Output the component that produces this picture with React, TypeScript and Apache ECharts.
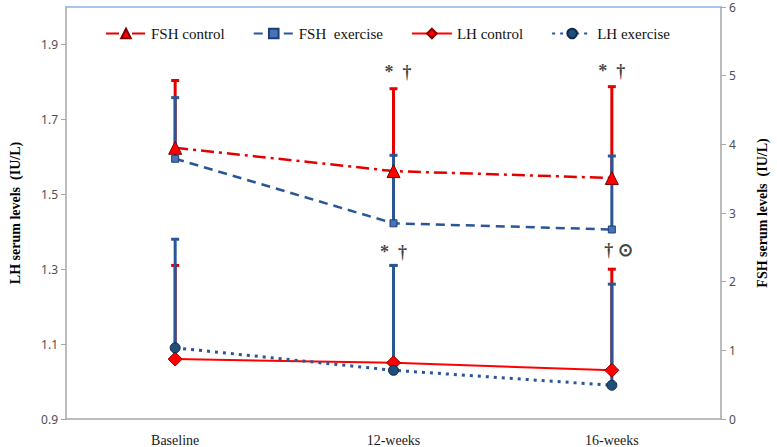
import React, { useEffect, useRef } from "react";
import * as echarts from "echarts";

const categories = ["Baseline", "12-weeks", "16-weeks"];

// FSH (right axis, IU/L)
const fshControl = [3.95, 3.61, 3.51];
const fshControlTop = [4.93, 4.81, 4.84];
const fshExercise = [3.79, 2.85, 2.76];
const fshExerciseTop = [4.68, 3.84, 3.83];

// LH (left axis, IU/L)
const lhControl = [1.06, 1.05, 1.03];
const lhControlTop = [1.31, 1.31, 1.3];
const lhExercise = [1.09, 1.03, 0.99];
const lhExerciseTop = [1.38, 1.31, 1.26];

// significance annotations
const annoCats = ["12-weeks", "16-weeks", "12-weeks", "16-weeks"];
const annoAxis = [1, 1, 0, 0];
const annoValues = [5.05, 5.07, 1.347, 1.352];
const annoTexts = ["  *  †", "*  †", "*  †", "   † ⊙"];

const leftTicks = { min: 0.9, max: 2.0, interval: 0.2 };
const rightTicks = { min: 0, max: 6, interval: 1 };

const RED = "#e50000";
const BLUE = "#2a5597";

function errorSeries(vals: number[], tops: number[], color: string, yAxisIndex: number) {
  return {
    type: "custom",
    yAxisIndex,
    z: 2,
    silent: true,
    data: vals.map((v, i) => [i, v, tops[i]]),
    encode: { x: 0, y: [1, 2] },
    renderItem: (params: any, api: any) => {
      const x = api.value(0);
      const p0 = api.coord([x, api.value(1)]);
      const p1 = api.coord([x, api.value(2)]);
      return {
        type: "group",
        children: [
          {
            type: "line",
            shape: { x1: p0[0], y1: p0[1], x2: p1[0], y2: p1[1] },
            style: { stroke: color, lineWidth: 3 },
          },
          {
            type: "line",
            shape: { x1: p1[0] - 4, y1: p1[1], x2: p1[0] + 4, y2: p1[1] },
            style: { stroke: color, lineWidth: 3 },
          },
        ],
      };
    },
  };
}

export default function App() {
  const ref = useRef<HTMLDivElement>(null);
  useEffect(() => {
    document.body.style.margin = "0";
    const chart = echarts.init(ref.current!, null, { renderer: "svg" });
    const serif = "Liberation Serif";
    const option: any = {
      animation: false,
      backgroundColor: "#ffffff",
      grid: { left: 62, right: 53, top: 7, bottom: 27 },
      legend: {
        left: 100,
        top: 21,
        itemWidth: 40,
        itemHeight: 12,
        itemGap: 28,
        data: ["FSH control", "FSH  exercise", "LH control", "LH exercise"],
        textStyle: { fontFamily: serif, fontSize: 15, color: "#111" },
      },
      xAxis: [
        {
          type: "category",
          data: categories,
          boundaryGap: true,
          axisLine: { lineStyle: { color: "#a6a6a6", width: 1.5 } },
          axisTick: { show: false },
          axisLabel: {
            fontFamily: serif,
            fontSize: 14,
            color: "#1a1a1a",
            margin: 14,
          },
        },
        {
          type: "category",
          data: categories,
          position: "top",
          axisLine: { lineStyle: { color: "#8db3e2", width: 1.5 } },
          axisTick: { show: false },
          axisLabel: { show: false },
        },
      ],
      yAxis: [
        {
          type: "value",
          ...leftTicks,
          name: "LH serum levels  (IU/L)",
          nameLocation: "middle",
          nameRotate: 90,
          nameGap: 44,
          nameTextStyle: { fontFamily: serif, fontSize: 14, fontWeight: "bold", color: "#000" },
          splitLine: { show: false },
          axisLine: { show: true, lineStyle: { color: "#a6a6a6", width: 1.5 } },
          axisTick: { show: true, length: 5, lineStyle: { color: "#a6a6a6" } },
          axisLabel: {
            showMaxLabel: false,
            fontFamily: "Noto Sans",
            fontSize: 12,
            color: "#505050",
            margin: 8,
            formatter: (v: number) => v.toFixed(1),
          },
        },
        {
          type: "value",
          ...rightTicks,
          position: "right",
          name: "FSH serum levels  (IU/L)",
          nameLocation: "middle",
          nameRotate: 90,
          nameGap: 34,
          nameTextStyle: { fontFamily: serif, fontSize: 14, fontWeight: "bold", color: "#000" },
          splitLine: { show: false },
          axisLine: { show: true, lineStyle: { color: "#a6a6a6", width: 1.5 } },
          axisTick: { show: true, length: 5, lineStyle: { color: "#a6a6a6" } },
          axisLabel: {
            fontFamily: "Noto Sans",
            fontSize: 12,
            color: "#505050",
            margin: 8,
          },
        },
      ],
      series: [
        errorSeries(fshControl, fshControlTop, RED, 1),
        errorSeries(lhControl, lhControlTop, RED, 0),
        errorSeries(fshExercise, fshExerciseTop, BLUE, 1),
        errorSeries(lhExercise, lhExerciseTop, BLUE, 0),
        {
          name: "FSH control",
          type: "line",
          yAxisIndex: 1,
          z: 3,
          data: fshControl,
          symbol: "triangle",
          symbolSize: 13,
          itemStyle: { color: "#ff0000", borderColor: "#7a0000", borderWidth: 1 },
          lineStyle: { color: RED, width: 2.5, type: [13, 5, 3, 5] },
        },
        {
          name: "FSH  exercise",
          type: "line",
          yAxisIndex: 1,
          z: 3,
          data: fshExercise,
          symbol: "rect",
          symbolSize: 7,
          itemStyle: { color: "#4a72b8", borderColor: "#1f3f73", borderWidth: 1 },
          lineStyle: { color: BLUE, width: 2.5, type: [9, 6] },
        },
        {
          name: "LH control",
          type: "line",
          yAxisIndex: 0,
          z: 3,
          data: lhControl,
          symbol: "diamond",
          symbolSize: 14,
          itemStyle: { color: "#ff0000", borderColor: "#8b0000", borderWidth: 1 },
          lineStyle: { color: "#ff0000", width: 2 },
        },
        {
          name: "LH exercise",
          type: "line",
          yAxisIndex: 0,
          z: 3,
          data: lhExercise,
          symbol: "circle",
          symbolSize: 10,
          itemStyle: { color: "#1f4e79", borderColor: "#0d2a4a", borderWidth: 1 },
          lineStyle: { color: BLUE, width: 3, type: [3, 5] },
        },
        ...[0, 1].map((axis) => ({
          type: "scatter",
          yAxisIndex: axis,
          z: 4,
          silent: true,
          symbolSize: 0,
          data: annoCats
            .map((c, i) => ({ c, i }))
            .filter((d) => annoAxis[d.i] === axis)
            .map((d) => ({
              value: [d.c, annoValues[d.i]],
              label: {
                show: true,
                position: "inside",
                formatter: annoTexts[d.i],
                fontFamily: serif,
                fontSize: 18,
                fontWeight: "bold",
                color: "#111",
              },
            })),
        })),
      ],
    };
    chart.setOption(option);
    return () => chart.dispose();
  }, []);
  return <div ref={ref} style={{ width: 777, height: 447 }} />;
}
